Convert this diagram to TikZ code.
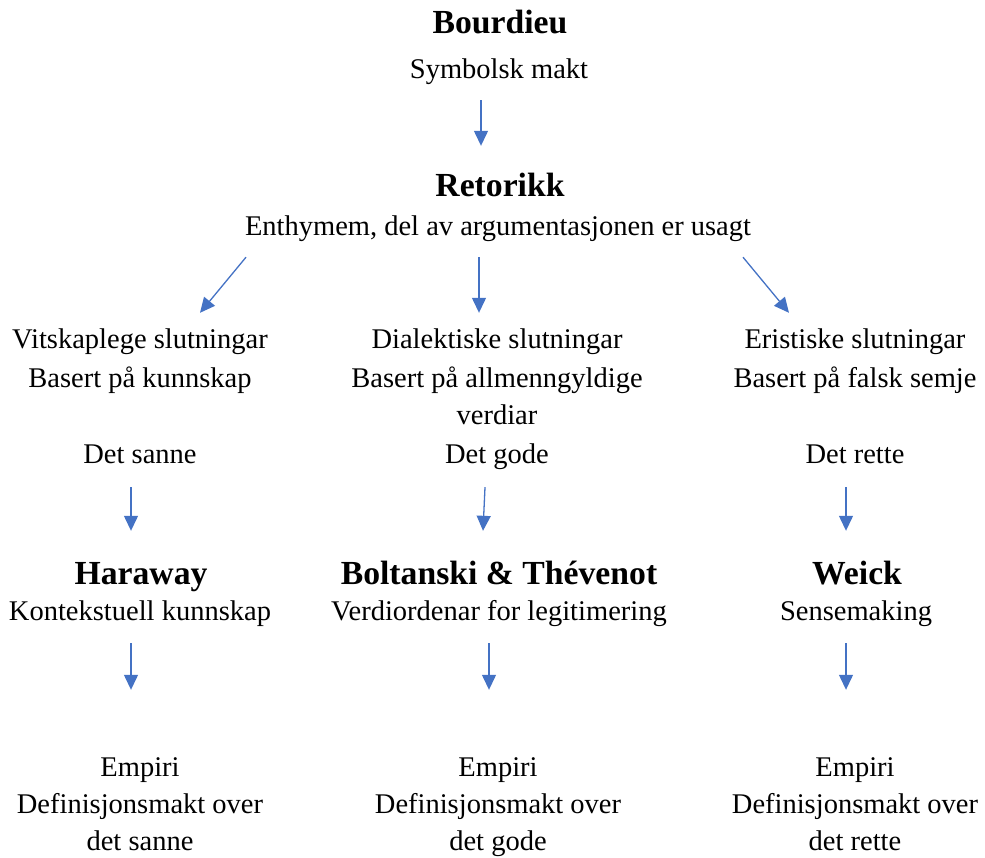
\documentclass[tikz,border=0pt]{standalone}
\usepackage{fontspec}
\setmainfont{Liberation Serif}
\usetikzlibrary{arrows.meta, positioning}
\definecolor{arrblue}{RGB}{68,114,196}

\begin{document}
\begin{tikzpicture}[x=1pt, y=-1pt]
    \tikzset{
        body/.style={font=\fontsize{28.5}{34}\selectfont, inner sep=0pt, text height=20pt, text depth=7pt},
        head/.style={font=\fontsize{33.7}{40}\selectfont\bfseries, inner sep=0pt, text height=24pt, text depth=8pt},
        arr/.style={draw=arrblue, line width=1.3pt, -{Triangle[length=15pt, width=14pt]}}
    }
    \useasboundingbox (0,0) rectangle (985,858);

    % top
    \node [head] (bourd) at (500,26) {Bourdieu};
    \node [body] (symb) at (499,72) {Symbolsk makt};
    \node [head] (ret) at (500,189) {Retorikk};
    \node [body] (enth) at (498,229) {Enthymem, del av argumentasjonen er usagt};

    % slutningar
    \node [body] (vit) at (140,342) {Vitskaplege slutningar};
    \node [body] (vit2) at (140,381) {Basert på kunnskap};
    \node [body] (sanne) at (140,457) {Det sanne};
    \node [body] (dia) at (497,342) {Dialektiske slutningar};
    \node [body] (dia2) at (497,381) {Basert på allmenngyldige};
    \node [body] (dia3) at (497,418) {verdiar};
    \node [body] (gode) at (497,457) {Det gode};
    \node [body] (eri) at (855,342) {Eristiske slutningar};
    \node [body] (eri2) at (855,381) {Basert på falsk semje};
    \node [body] (rette) at (855,457) {Det rette};

    % teoretikarar
    \node [head] (har) at (141,576) {Haraway};
    \node [body] (har2) at (140,614) {Kontekstuell kunnskap};
    \node [head] (bol) at (499,576) {Boltanski \& Thévenot};
    \node [body] (bol2) at (499,614) {Verdiordenar for legitimering};
    \node [head] (wei) at (857,576) {Weick};
    \node [body] (wei2) at (856,614) {Sensemaking};

    % empiri
    \foreach \x/\n/\t in {140/a/sanne, 498/b/gode, 855/c/rette} {
        \node [body] (emp\n) at (\x,770) {Empiri};
        \node [body] (def\n) at (\x,807) {Definisjonsmakt over};
        \node [body] (det\n) at (\x,844) {det \t};
    }

    \draw [arr] ([xshift=-18pt, yshift=-14.5pt]symb.south) -- ([xshift=-19pt, yshift=27pt]ret.north);
    \draw [arr] ([xshift=-252pt, yshift=-14.5pt]enth.south) -- ([xshift=60pt, yshift=15.5pt]vit.north);
    \draw [arr] ([xshift=-19pt, yshift=-14.5pt]enth.south) -- ([xshift=-18pt, yshift=15.5pt]dia.north);
    \draw [arr] ([xshift=245pt, yshift=-14.5pt]enth.south) -- ([xshift=-66pt, yshift=15.5pt]eri.north);

    \draw [arr] ([xshift=-9pt, yshift=-16.5pt]sanne.south) -- ([xshift=-10pt, yshift=29pt]har.north);
    \draw [arr] ([xshift=-12pt, yshift=-16.5pt]gode.south) -- ([xshift=-16pt, yshift=29pt]bol.north);
    \draw [arr] ([xshift=-9pt, yshift=-16.5pt]rette.south) -- ([xshift=-11pt, yshift=29pt]wei.north);

    \draw [arr] ([xshift=-9pt, yshift=-15.5pt]har2.south) -- ([xshift=-9pt, yshift=66.5pt]empa.north);
    \draw [arr] ([xshift=-10pt, yshift=-15.5pt]bol2.south) -- ([xshift=-9pt, yshift=66.5pt]empb.north);
    \draw [arr] ([xshift=-10pt, yshift=-15.5pt]wei2.south) -- ([xshift=-9pt, yshift=66.5pt]empc.north);
\end{tikzpicture}
\end{document}
